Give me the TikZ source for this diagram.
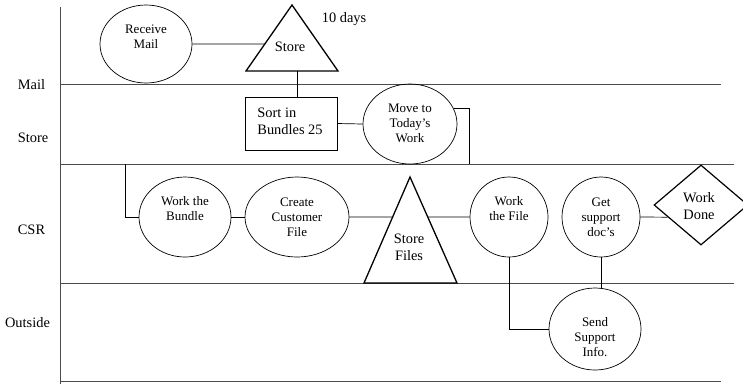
\documentclass[tikz,border=0pt]{standalone}
\usepackage{fontspec}
\setmainfont{Liberation Serif}
\usetikzlibrary{shapes.geometric,calc}
\begin{document}
\begin{tikzpicture}[x=1pt,y=-1pt,
 lane/.style={draw=black!70,line width=1pt},
 conn/.style={draw=black,line width=0.7pt},
 proc/.style={draw=black,line width=0.7pt,ellipse,inner sep=0pt},
 tri/.style={draw=black,line width=1.3pt,line join=miter},
 small/.style={font=\fontsize{13}{15}\selectfont,align=center,inner sep=0pt},
 big/.style={font=\fontsize{14.4}{17}\selectfont,align=center,inner sep=0pt},
]
\useasboundingbox (0,0) rectangle (743,384);
% lanes
\draw[lane] (60,7) -- (60,384);
\draw[lane] (60,84) -- (721,84);
\draw[lane] (60,164) -- (734,164);
\draw[lane] (60,283) -- (734,283);
\draw[lane] (60,381) -- (721,381);
\node[big] (lMail) at (31.5,85) {Mail};
\node[big] (lStore) at (33,138) {Store};
\node[big] (lCSR) at (31.5,230) {CSR};
\node[big] (lOut) at (27.5,323) {Outside};
% Mail lane
\node[proc,minimum width=92,minimum height=78] (rm) at (146,44) {};
\node[small] (rmT) at (146,37) {Receive\\Mail};
\coordinate (sA) at (292,5);
\coordinate (sL) at (246,71);
\coordinate (sR) at (338,71);
\draw[tri] (sA) -- (sL) -- (sR) -- cycle;
\node[big] (stT) at (290,47) {Store};
\node[big] (days) at (344,19) {10 days};
% Store lane
\node[draw=black,line width=0.8pt,minimum width=92,minimum height=53,inner sep=0pt] (sort) at (291,123.5) {};
\node[big,align=left] (sortT) at (290,121) {Sort in\\Bundles 25};
\node[proc,minimum width=94,minimum height=80] (mv) at (410,124) {};
\node[small] (mvT) at (410,123) {Move to\\Today's\\Work};
% CSR lane
\node[proc,minimum width=92,minimum height=80] (wb) at (185,217) {};
\node[small] (wbT) at (185,209) {Work the\\Bundle};
\node[proc,minimum width=104,minimum height=80] (cc) at (297,217) {};
\node[small] (ccT) at (297,217) {Create\\Customer\\File};
\coordinate (fA) at (410,177);
\coordinate (fL) at (364,283);
\coordinate (fR) at (457,283);
\draw[tri] (fA) -- (fL) -- (fR) -- cycle;
\node[big] (fT) at (409,247.5) {Store\\Files};
\node[proc,minimum width=78,minimum height=80] (wf) at (509,217) {};
\node[small] (wfT) at (509,209) {Work\\the File};
\node[proc,minimum width=78,minimum height=80] (gs) at (601,217) {};
\node[small] (gsT) at (601,217) {Get\\support\\doc's};
\node[draw=black,line width=1.2pt,diamond,minimum width=94,minimum height=80,inner sep=0pt] (wd) at (701,205) {};
\node[big] (wdT) at (699,206) {Work\\Done};
% Outside lane
\node[proc,minimum width=92,minimum height=82] (ss) at (595,329) {};
\node[small] (ssT) at (595,337) {Send\\Support\\Info.};
% connectors
\draw[conn] (rm.east) -- ($(sA)!0.59!(sL)$);
\coordinate (sB) at (297,71);
\draw[conn] (sB) -- (sB |- sort.north);
\draw[conn] (sort.east) -- (mv.west);
\coordinate (mD) at (469,164);
\draw[conn] (mv.20) -| (mD);
\coordinate (cS) at (125,164);
\draw[conn] (cS) |- (wb.west);
\draw[conn] (wb.east) -- (cc.west);
\draw[conn] (cc.east) -- ($(fA)!0.377!(fL)$);
\draw[conn] ($(fA)!0.377!(fR)$) -- (wf.west);
\draw[conn] (wf.south) |- (ss.west);
\draw[conn] (gs.south) -- (gs.south |- ss.north);
\draw[conn] (gs.east) -- ($(wd.west)!0.3!(wd.south)$);
\end{tikzpicture}
\end{document}
